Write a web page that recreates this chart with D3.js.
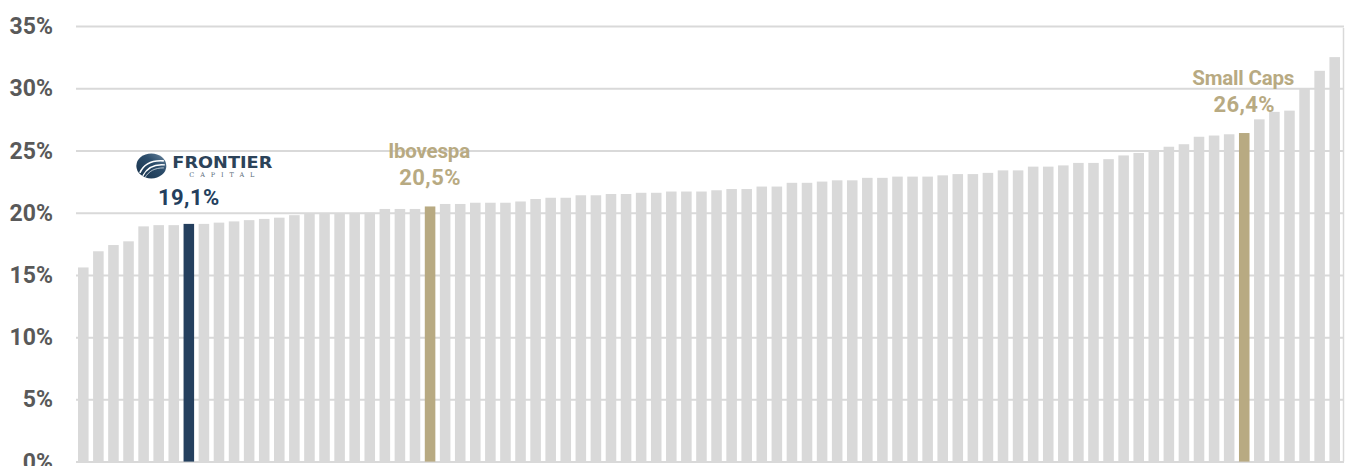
<!DOCTYPE html>
<html>
<head>
<meta charset="utf-8">
<script src="https://cdn.jsdelivr.net/npm/d3@7/dist/d3.min.js"></script>
<style>
  html, body { margin: 0; padding: 0; background: #ffffff; }
  svg { display: block; }
  text { font-family: Roboto, "Liberation Sans", Arial, sans-serif; }
</style>
</head>
<body>
<svg id="chart" width="1345" height="466"></svg>
<script>
// ---- data ----
const values = [
  15.6, 16.9, 17.4, 17.7, 18.9, 19.0, 19.0, 19.1, 19.1, 19.2,
  19.3, 19.4, 19.5, 19.6, 19.8, 19.9, 19.9, 19.9, 19.9, 20.0,
  20.3, 20.3, 20.3, 20.5, 20.7, 20.7, 20.8, 20.8, 20.8, 20.9,
  21.1, 21.2, 21.2, 21.4, 21.4, 21.5, 21.5, 21.6, 21.6, 21.7,
  21.7, 21.7, 21.8, 21.9, 21.9, 22.1, 22.1, 22.4, 22.4, 22.5,
  22.6, 22.6, 22.8, 22.8, 22.9, 22.9, 22.9, 23.0, 23.1, 23.1,
  23.2, 23.4, 23.4, 23.7, 23.7, 23.8, 24.0, 24.0, 24.3, 24.6,
  24.8, 24.9, 25.3, 25.5, 26.1, 26.2, 26.3, 26.4, 27.5, 28.1,
  28.2, 30.0, 31.4, 32.5
];
const categories = values.map((v, i) => "Fundo " + (i + 1));
const yTicks = [0, 5, 10, 15, 20, 25, 30, 35];
const frontierIndex = 7;
const benchmarkIndex = [23, 77];
const benchmarkNames = ["Ibovespa", "Small Caps"];
const logoName = "FRONTIER";
const logoSub = "CAPITAL";

(function () {
// ---- layout ----
const mLeft = 76, mRight = 1344, mTop = 26, mBottom = 461.6;
const grey = "#d9d9d9", navy = "#243f5e", gold = "#b8aa82", tickCol = "#595959";

const svg = d3.select("#chart");

const x = d3.scaleBand().domain(categories).range([mLeft - 1, mRight - 1])
  .paddingInner(0.3).paddingOuter(0.2);
const y = d3.scaleLinear().domain([0, 35]).range([mBottom, mTop]);

const fmt = v => d3.format(".1f")(v).replace(".", ",") + "%";

// gridlines
const grid = svg.append("g").attr("transform", `translate(${mLeft},0)`)
  .call(d3.axisLeft(y).tickValues(yTicks).tickSize(-(mRight - mLeft)).tickFormat(""));
grid.select(".domain").remove();
grid.selectAll("line").attr("stroke", grey).attr("stroke-width", 2);

// right border line
svg.append("line").attr("x1", mRight - 0.5).attr("x2", mRight - 0.5)
  .attr("y1", y(35) + 2).attr("y2", mBottom)
  .attr("stroke", grey).attr("stroke-width", 1.5);

// y axis labels
const yAxis = svg.append("g").attr("transform", `translate(${mLeft},0)`)
  .call(d3.axisLeft(y).tickValues(yTicks).tickSize(0).tickPadding(23).tickFormat(d => d + "%"));
yAxis.select(".domain").remove();
yAxis.selectAll("text")
  .attr("fill", tickCol).style("font-size", "23px").style("font-weight", 700)
  .attr("dy", "0.33em");

// bars
svg.append("g").selectAll("rect").data(values).join("rect")
  .attr("x", (d, i) => x(categories[i]))
  .attr("width", x.bandwidth())
  .attr("y", d => y(d))
  .attr("height", d => mBottom - y(d))
  .attr("fill", (d, i) => i === frontierIndex ? navy : (benchmarkIndex.includes(i) ? gold : grey));

// benchmark labels
benchmarkIndex.forEach((idx, k) => {
  const cx = x(categories[idx]) + x.bandwidth() / 2;
  const ty = y(values[idx]);
  svg.append("text").attr("x", cx - 1).attr("y", ty - 48)
    .attr("text-anchor", "middle").attr("fill", gold)
    .style("font-size", "20.5px").style("font-weight", 700)
    .style("letter-spacing", "-0.2px")
    .text(benchmarkNames[k]);
  svg.append("text").attr("x", cx).attr("y", ty - 21)
    .attr("text-anchor", "middle").attr("fill", gold)
    .style("font-size", "22px").style("font-weight", 700)
    .style("letter-spacing", "0.4px")
    .text(fmt(values[idx]));
});

// frontier label + logo
const cx = x(categories[frontierIndex]) + x.bandwidth() / 2;
const ty = y(values[frontierIndex]);
svg.append("text").attr("x", cx).attr("y", ty - 19)
  .attr("text-anchor", "middle").attr("fill", navy)
  .style("font-size", "22px").style("font-weight", 700)
  .style("letter-spacing", "0.4px")
  .text(fmt(values[frontierIndex]));

const defs = svg.append("defs");
const grad = defs.append("linearGradient").attr("id", "lg")
  .attr("x1", "0%").attr("y1", "100%").attr("x2", "100%").attr("y2", "0%");
grad.append("stop").attr("offset", "0%").attr("stop-color", "#17314a");
grad.append("stop").attr("offset", "60%").attr("stop-color", "#2c4d6b");
grad.append("stop").attr("offset", "100%").attr("stop-color", "#6e8aa3");

const g = svg.append("g").attr("transform", `translate(${cx},${ty - 56})`);
g.append("ellipse").attr("cx", -37.5).attr("cy", -2).attr("rx", 15).attr("ry", 12.5)
  .attr("fill", "url(#lg)");
g.append("path").attr("d", "M-49,5 C-45,-4 -37,-8 -25,-7")
  .attr("fill", "none").attr("stroke", "#ffffff").attr("stroke-width", 1.6);
g.append("path").attr("d", "M-46,8 C-42,0 -35,-4 -24,-3")
  .attr("fill", "none").attr("stroke", "#ffffff").attr("stroke-width", 1.3);
g.append("path").attr("d", "M-44,10 C-40,3 -34,0 -25,0")
  .attr("fill", "none").attr("stroke", "#dfe6ec").attr("stroke-width", 0.8);
g.append("text").attr("x", -16.5).attr("y", 0)
  .attr("fill", "#2c4359")
  .attr("textLength", 100).attr("lengthAdjust", "spacingAndGlyphs")
  .style("font-family", "'DejaVu Sans', sans-serif")
  .style("font-size", "15.5px").style("font-weight", 700)
  .text(logoName);
g.append("text").attr("x", 0.5).attr("y", 9.5)
  .attr("fill", "#5a6b7a")
  .attr("textLength", 65).attr("lengthAdjust", "spacing")
  .style("font-family", "'DejaVu Serif', serif")
  .style("font-size", "6.5px")
  .text(logoSub);
})();
</script>
</body>
</html>
